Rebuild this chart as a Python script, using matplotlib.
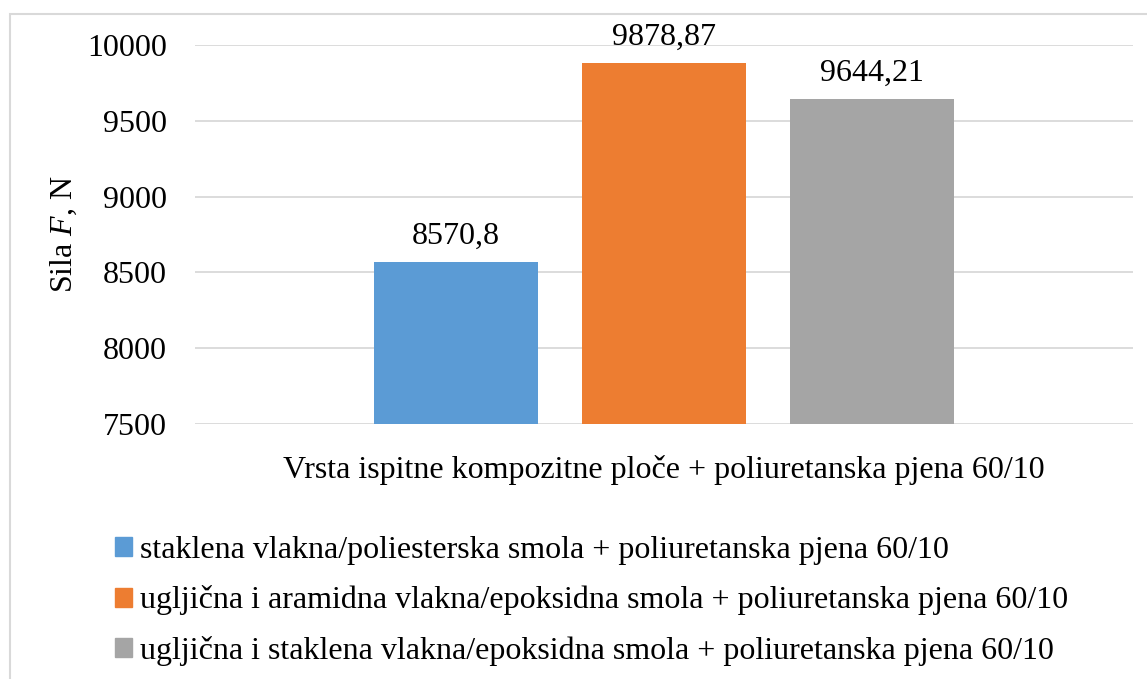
import matplotlib
matplotlib.use('Agg')
import matplotlib.pyplot as plt
from matplotlib.patches import Patch, Rectangle

plt.rcParams['font.family'] = ['Liberation Serif', 'DejaVu Serif']
plt.rcParams['mathtext.fontset'] = 'custom'
plt.rcParams['mathtext.it'] = 'Liberation Serif:italic'
plt.rcParams['mathtext.rm'] = 'Liberation Serif'

# measured maximum force for each panel type
series = [
    'staklena vlakna/poliesterska smola + poliuretanska pjena 60/10',
    'ugljična i aramidna vlakna/epoksidna smola + poliuretanska pjena 60/10',
    'ugljična i staklena vlakna/epoksidna smola + poliuretanska pjena 60/10',
]
forces = [8570.8, 9878.87, 9644.21]
value_labels = ['8570,8', '9878,87', '9644,21']
colors = ['#5B9BD5', '#ED7D31', '#A5A5A5']
yticks = [7500, 8000, 8500, 9000, 9500, 10000]

W, H = 1147, 679
fig = plt.figure(figsize=(W / 100, H / 100), dpi=100)

# plot area in pixels
left, right, top, bottom = 195, 1133, 45, 424
ax = fig.add_axes([left / W, 1 - bottom / H, (right - left) / W, (bottom - top) / H])

# chart frame
fig.patches.append(Rectangle((10 / W, -0.1), 1.2, 1 - 14 / H + 0.1, transform=fig.transFigure,
                             fill=False, edgecolor='#D9D9D9', linewidth=1.5))

fs = 23
x = [0, 1, 2]
bars = ax.bar(x, forces, width=164 / 208, color=colors, zorder=3)
for b, lab in zip(bars, value_labels):
    ax.annotate(lab, (b.get_x() + b.get_width() / 2, b.get_height()),
                xytext=(0, 8), textcoords='offset points',
                ha='center', va='bottom', fontsize=fs)

ax.set_xlim(-1.255, 3.255)
ax.set_ylim(7500, 10000)
ax.set_yticks(yticks)
ax.set_yticklabels([str(t) for t in yticks], fontsize=fs)
ax.tick_params(axis='y', length=0, pad=20)
ax.set_xticks([])
ax.grid(axis='y', color='#D9D9D9', linewidth=1.3, zorder=0)
for s in ax.spines.values():
    s.set_visible(False)

ax.set_ylabel(r'Sila $F$, N', fontsize=fs, labelpad=6)
fig.text(664 / W, 1 - 470 / H, 'Vrsta ispitne kompozitne ploče + poliuretanska pjena 60/10',
         ha='center', va='center', fontsize=fs)

handles = [Patch(color=c) for c in colors]
fig.legend(handles, series, loc='upper left', bbox_to_anchor=(115 / W, 1 - 536 / H),
           frameon=False, fontsize=fs, handlelength=0.53, handleheight=0.53,
           handletextpad=0.25, labelspacing=0.64, borderpad=0, borderaxespad=0)

fig.savefig('out.png', dpi=100)
